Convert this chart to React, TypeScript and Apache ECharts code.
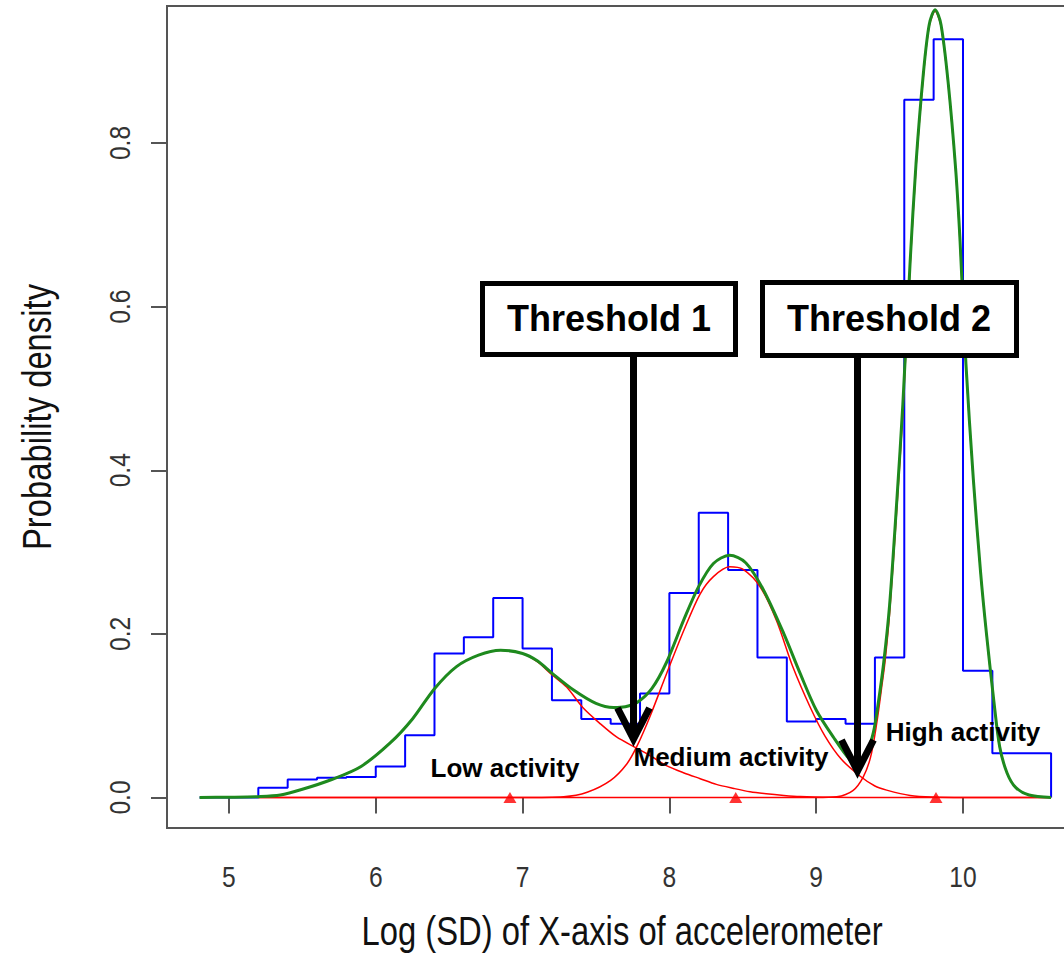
import React, { useEffect, useRef } from "react";
import * as echarts from "echarts";

// ---- data ----
const xTicks = [5, 6, 7, 8, 9, 10];
const yTicks = [0, 0.2, 0.4, 0.6, 0.8];

// histogram outline: [bin left edge, density]; last point closes the outline
const histogram: number[][] = [
  [4.8, 0], [5.0, 0], [5.2, 0.012], [5.4, 0.022], [5.6, 0.024], [5.8, 0.025],
  [6.0, 0.038], [6.2, 0.076], [6.4, 0.176], [6.6, 0.196], [6.8, 0.244],
  [7.0, 0.182], [7.2, 0.119], [7.4, 0.096], [7.6, 0.09], [7.8, 0.127],
  [8.0, 0.25], [8.2, 0.348], [8.4, 0.278], [8.6, 0.171], [8.8, 0.093],
  [9.0, 0.096], [9.2, 0.09], [9.4, 0.171], [9.6, 0.853], [9.8, 0.927],
  [10.0, 0.155], [10.2, 0.054], [10.4, 0.054], [10.6, 0],
];

// mixture density (green)
const mixture: number[][] = [
  [4.8, 0], [5.0, 0.0003], [5.2, 0.001], [5.35, 0.003], [5.5, 0.01], [5.7, 0.022],
  [5.9, 0.038], [6.1, 0.067], [6.25, 0.096], [6.4, 0.133], [6.55, 0.16], [6.7, 0.174],
  [6.85, 0.18], [7.0, 0.176], [7.1, 0.167], [7.2, 0.152], [7.35, 0.131], [7.5, 0.115],
  [7.62, 0.11], [7.7, 0.111], [7.78, 0.116], [7.88, 0.133], [7.98, 0.165], [8.1, 0.218],
  [8.2, 0.258], [8.3, 0.286], [8.41, 0.296], [8.52, 0.287], [8.64, 0.254], [8.78, 0.2],
  [8.89, 0.152], [9.0, 0.107], [9.12, 0.073], [9.23, 0.046], [9.29, 0.039], [9.34, 0.051],
  [9.39, 0.08], [9.42, 0.112], [9.46, 0.165], [9.5, 0.235], [9.55, 0.365], [9.59, 0.48],
  [9.64, 0.655], [9.68, 0.775], [9.73, 0.885], [9.77, 0.945], [9.81, 0.963], [9.85, 0.945],
  [9.9, 0.872], [9.95, 0.768], [9.98, 0.68], [10.02, 0.53], [10.07, 0.39], [10.12, 0.275],
  [10.16, 0.2], [10.21, 0.118], [10.25, 0.062], [10.3, 0.03], [10.36, 0.012], [10.45, 0.003],
  [10.6, 0],
];

// component densities (red)
const lowComponent: number[][] = [
  [5.2, 0.001], [5.35, 0.003], [5.5, 0.01], [5.7, 0.022], [5.9, 0.038], [6.1, 0.067],
  [6.25, 0.096], [6.4, 0.133], [6.55, 0.16], [6.7, 0.174], [6.85, 0.18], [7.0, 0.176],
  [7.1, 0.166], [7.2, 0.15], [7.3, 0.135], [7.41, 0.11], [7.53, 0.09], [7.64, 0.074],
  [7.77, 0.061], [7.87, 0.051], [7.98, 0.039], [8.1, 0.03], [8.21, 0.023], [8.32, 0.016],
  [8.44, 0.011], [8.55, 0.007], [8.66, 0.0045], [8.78, 0.0025], [8.89, 0.0012],
  [9.1, 0.0003], [9.4, 0], [10.6, 0],
];
const mediumComponent: number[][] = [
  [5.2, 0], [7.0, 0], [7.28, 0.001], [7.44, 0.0065], [7.6, 0.021], [7.71, 0.041],
  [7.78, 0.063], [7.87, 0.1], [7.98, 0.151], [8.1, 0.205], [8.21, 0.249], [8.3, 0.27],
  [8.41, 0.282], [8.5, 0.279], [8.62, 0.257], [8.73, 0.216], [8.84, 0.16], [8.96, 0.11],
  [9.06, 0.075], [9.17, 0.047], [9.3, 0.026], [9.4, 0.014], [9.48, 0.009], [9.64, 0.0025],
  [9.8, 0.0005], [10.0, 0], [10.6, 0],
];
const highComponent: number[][] = [
  [5.2, 0], [9.0, 0], [9.14, 0.001], [9.25, 0.0085], [9.32, 0.025], [9.37, 0.049],
  [9.41, 0.088], [9.45, 0.14], [9.47, 0.168], [9.5, 0.225], [9.55, 0.355], [9.59, 0.47],
  [9.64, 0.65], [9.68, 0.77], [9.73, 0.882], [9.77, 0.943], [9.81, 0.961], [9.85, 0.943],
  [9.9, 0.87], [9.95, 0.766], [9.98, 0.678], [10.02, 0.528], [10.07, 0.389], [10.12, 0.274],
  [10.16, 0.199], [10.21, 0.117], [10.25, 0.061], [10.3, 0.03], [10.36, 0.012],
  [10.45, 0.003], [10.6, 0],
];

// component means (red triangles)
const componentMeans = [6.914, 8.452, 9.816];

const xTitle = "Log (SD) of X-axis of accelerometer";
const yTitle = "Probability density";
const thresholdLabels = ["Threshold 1", "Threshold 2"];
const activityLabels = ["Low activity", "Medium activity", "High activity"];

const SANS = "'Liberation Sans', Arial, sans-serif";
const NARROW_SCALE = 0.82; // emulate Arial Narrow

export default function App() {
  const ref = useRef<HTMLDivElement>(null);

  useEffect(() => {
    if (!ref.current) return;
    const chart = echarts.init(ref.current, null, { renderer: "svg" });

    chart.setOption({
      animation: false,
      backgroundColor: "#ffffff",
      grid: {
        left: 167,
        top: 6,
        right: -21,
        bottom: 127,
        outerBoundsMode: "none",
        containLabel: false,
        show: true,
        borderColor: "#555555",
        borderWidth: 2,
        backgroundColor: "transparent",
      },
      xAxis: {
        type: "value",
        min: 4.578,
        max: 10.831,
        axisLine: { show: false },
        splitLine: { show: false },
        axisTick: {
          show: true,
          customValues: xTicks,
          length: 16,
          lineStyle: { color: "#555555", width: 2 },
        },
        axisLabel: { show: false },
      },
      yAxis: {
        type: "value",
        min: -0.0373,
        max: 0.9675,
        axisLine: { show: false },
        splitLine: { show: false },
        axisTick: {
          show: true,
          customValues: yTicks,
          length: 16,
          lineStyle: { color: "#555555", width: 2 },
        },
        axisLabel: { show: false },
      },
      series: [
        {
          type: "line",
          data: histogram,
          step: "end",
          symbol: "none",
          lineStyle: { color: "#0000ff", width: 2 },
          z: 2,
        },
        {
          type: "line",
          data: lowComponent,
          smooth: 0.3,
          symbol: "none",
          lineStyle: { color: "#ff0000", width: 1.5 },
          z: 3,
        },
        {
          type: "line",
          data: mediumComponent,
          smooth: 0.3,
          symbol: "none",
          lineStyle: { color: "#ff0000", width: 1.5 },
          z: 3,
        },
        {
          type: "line",
          data: highComponent,
          smooth: 0.3,
          symbol: "none",
          lineStyle: { color: "#ff0000", width: 1.5 },
          z: 3,
        },
        {
          type: "line",
          data: mixture,
          smooth: 0.3,
          symbol: "none",
          lineStyle: { color: "#1e8a1e", width: 3 },
          z: 4,
        },
        {
          type: "scatter",
          data: componentMeans.map((m) => [m, 0]),
          symbol: "triangle",
          symbolSize: [13, 11],
          itemStyle: { color: "#ff0000" },
          z: 5,
        },
      ],
    });

    const px = (v: number) => chart.convertToPixel({ xAxisIndex: 0 }, v) as number;
    const py = (v: number) => chart.convertToPixel({ yAxisIndex: 0 }, v) as number;

    const narrowText = (text: string, x: number, y: number, size: number, color: string, rotation = 0) => ({
      type: "text",
      z: 50,
      x,
      y,
      rotation,
      scaleX: NARROW_SCALE,
      style: {
        text,
        fill: color,
        fontFamily: SANS,
        fontSize: size,
        align: "center",
        verticalAlign: "middle",
      },
    });
    const box = (x: number, y: number, w: number, h: number) => ({
      type: "rect",
      z: 100,
      shape: { x, y, width: w, height: h },
      style: { fill: "#ffffff", stroke: "#000000", lineWidth: 5 },
    });
    const label = (text: string, x: number, y: number, size: number) => ({
      type: "text",
      z: 102,
      x,
      y,
      style: {
        text,
        fill: "#000000",
        fontFamily: SANS,
        fontWeight: "bold",
        fontSize: size,
        align: "center",
        verticalAlign: "middle",
      },
    });
    const shaft = (x: number, y1: number, y2: number) => ({
      type: "line",
      z: 101,
      shape: { x1: x, y1, x2: x, y2 },
      style: { stroke: "#000000", lineWidth: 7 },
    });
    const head = (x: number, tipY: number) => ({
      type: "polyline",
      z: 101,
      shape: { points: [[x - 16, tipY - 31], [x, tipY], [x + 16, tipY - 31]] },
      style: { stroke: "#000000", lineWidth: 7, fill: null, lineJoin: "miter" },
    });

    chart.setOption({
      graphic: [
        ...xTicks.map((v) => narrowText(String(v), px(v), 877, 30, "#333333")),
        ...yTicks.map((v) => narrowText(v.toFixed(1), 120, py(v), 30, "#333333", Math.PI / 2)),
        narrowText(xTitle, 622, 931, 40, "#111111"),
        narrowText(yTitle, 37, 417, 40, "#111111", Math.PI / 2),
        box(482.5, 283.5, 253, 71),
        label(thresholdLabels[0], 609, 318, 36),
        box(762.5, 282.5, 254, 73),
        label(thresholdLabels[1], 889, 318, 36),
        shaft(633.5, 357, 735),
        head(633.5, 739),
        shaft(857.5, 358, 766),
        head(857.5, 771),
        label(activityLabels[0], 505, 768, 26),
        label(activityLabels[1], 731, 757, 26),
        label(activityLabels[2], 963, 732, 26),
      ],
    });

    return () => chart.dispose();
  }, []);

  return (
    <div
      ref={ref}
      style={{ position: "absolute", left: 0, top: 0, width: 1064, height: 955, background: "#ffffff" }}
    />
  );
}
